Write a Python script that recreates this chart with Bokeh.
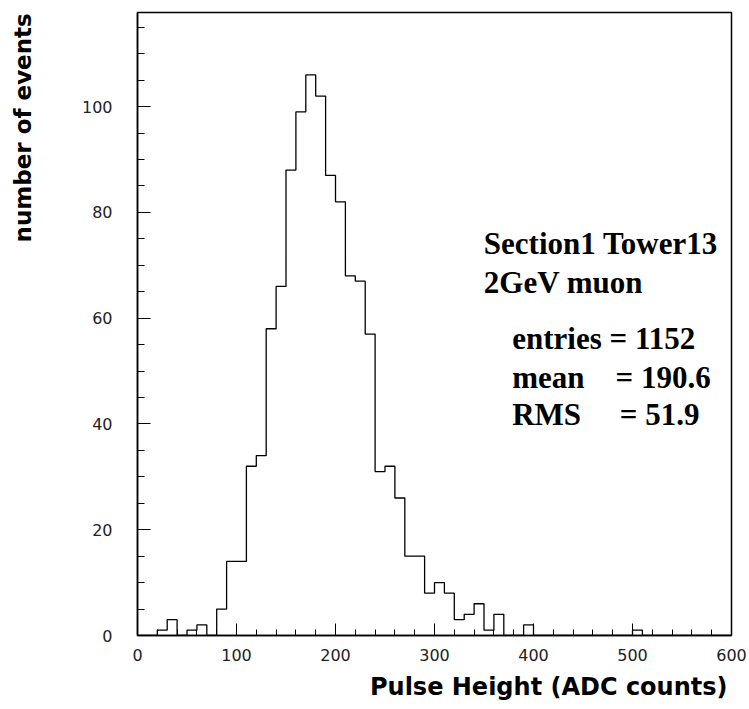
from bokeh.plotting import figure
from bokeh.models import FixedTicker, Label, Title
from bokeh.embed import file_html
from bokeh.resources import INLINE

# Histogram: 60 bins of width 10 from 0 to 600
bin_edges = list(range(0, 610, 10))
counts = [0, 0, 1, 3, 0, 1, 2, 0, 5, 14,
          14, 32, 34, 58, 66, 88, 99, 106, 102, 87,
          82, 68, 67, 57, 31, 32, 26, 15, 15, 8,
          10, 8, 3, 4, 6, 1, 4, 0, 0, 2,
          0, 0, 0, 0, 0, 0, 0, 0, 0, 0,
          1, 0, 0, 0, 0, 0, 0, 0, 0, 0]

x_ticks = [0, 100, 200, 300, 400, 500, 600]
x_minor = list(range(0, 601, 20))
y_ticks = [0, 20, 40, 60, 80, 100]
y_minor = list(range(0, 120, 5))

x_title = "Pulse Height (ADC counts)"
y_title = "number of events"
title_lines = ["Section1 Tower13", "2GeV muon"]
stat_lines = ["entries = 1152",
              "mean\u00a0\u00a0\u00a0\u00a0= 190.6",
              "RMS\u00a0\u00a0\u00a0\u00a0\u00a0= 51.9"]

p = figure(width=748, height=708, x_range=(0, 600), y_range=(0, 117.8),
           output_backend="svg", toolbar_location=None,
           min_border_left=137, min_border_right=17,
           min_border_top=12, min_border_bottom=73)
p.grid.visible = False
p.outline_line_color = "black"
p.outline_line_width = 1.5
p.background_fill_color = "white"

step_y = counts + [counts[-1]]
p.step(x=bin_edges, y=step_y, mode="after", line_color="black", line_width=1.3)

for ax in (p.xaxis[0], p.yaxis[0]):
    ax.axis_line_color = "black"
    ax.axis_line_width = 1.5
    ax.major_tick_out = 0
    ax.minor_tick_out = 0
    ax.major_tick_line_color = "black"
    ax.minor_tick_line_color = "black"
    ax.major_label_text_font = "DejaVu Sans"
    ax.major_label_text_font_size = "16px"
    ax.major_label_text_color = "#222222"

p.xaxis[0].ticker = FixedTicker(ticks=x_ticks, minor_ticks=x_minor)
p.yaxis[0].ticker = FixedTicker(ticks=y_ticks, minor_ticks=y_minor)
p.xaxis[0].major_tick_in = 12
p.xaxis[0].minor_tick_in = 6
p.yaxis[0].major_tick_in = 13
p.yaxis[0].minor_tick_in = 7
p.xaxis[0].major_label_standoff = 13
p.yaxis[0].major_label_standoff = 25

# x title (ROOT style: right-aligned under the axis)
p.add_layout(Title(text=x_title, align="right", offset=4, standoff=14,
                   text_font="DejaVu Sans", text_font_style="bold",
                   text_font_size="24px", text_color="black"), "below")

# y title (ROOT style: pushed to the top end of the axis with leading padding)
ya = p.yaxis[0]
ya.axis_label = "\u00a0" * 49 + y_title
ya.axis_label_standoff = 43
ya.axis_label_text_font = "DejaVu Sans"
ya.axis_label_text_font_style = "bold"
ya.axis_label_text_font_size = "23px"
ya.axis_label_text_color = "black"

title_pos = [(349.8, 74.1), (349.8, 66.8)]
stat_pos = [(378.5, 56.1), (378.5, 48.8), (378.5, 41.8)]
for (x, y), t in zip(title_pos + stat_pos, title_lines + stat_lines):
    p.add_layout(Label(x=x, y=y, text=t, text_font="Liberation Serif",
                       text_font_style="bold", text_font_size="31px",
                       text_color="black", text_baseline="alphabetic",
                       text_align="left"))

open("out.html", "w").write(file_html(p, INLINE))
